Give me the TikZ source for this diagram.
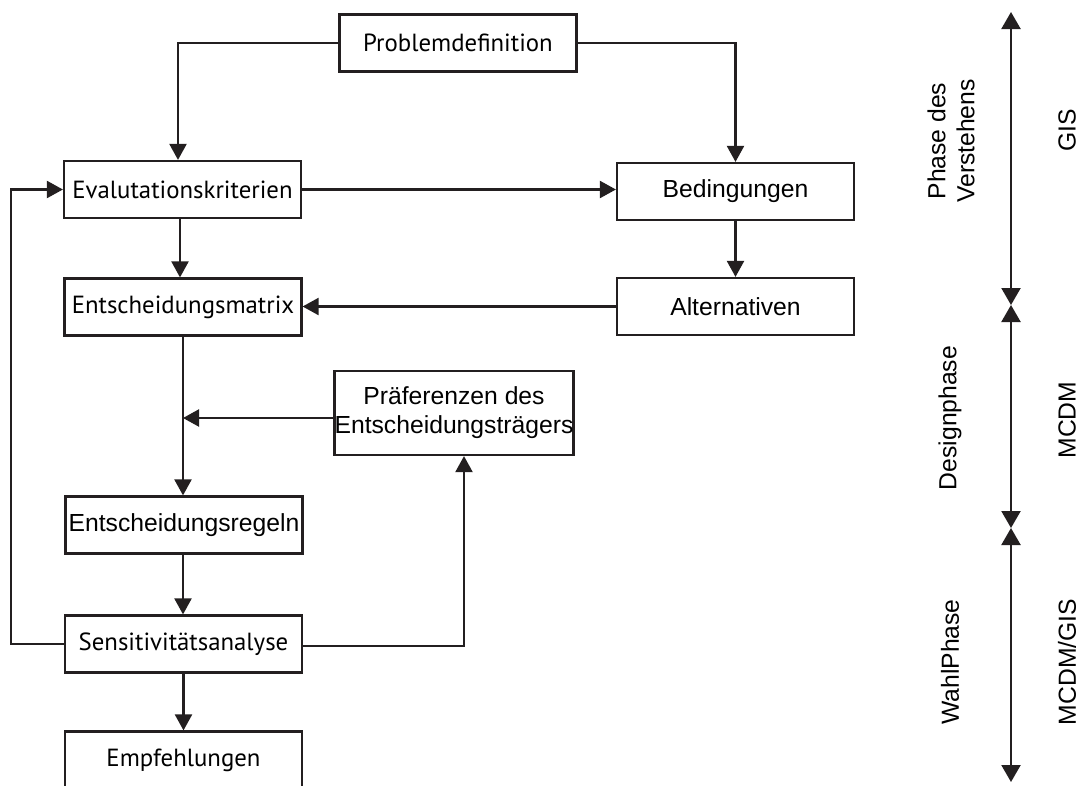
\documentclass[tikz,border=0pt]{standalone}
\usepackage{fontspec}
\setmainfont{Liberation Sans}
\newfontfamily\myr{PT Sans}
\usetikzlibrary{arrows.meta}
\definecolor{ink}{HTML}{231F20}
\tikzset{
  box/.style={draw=ink, line width=2.2pt, inner sep=0pt, minimum width=237pt, minimum height=57pt, align=center},
  helv/.style={font=\fontsize{24.7}{29}\selectfont},
  myriad/.style={font=\myr\fontsize{24.8}{29}\selectfont},
  arr/.style={draw=ink, line width=2.2pt, -{Triangle[length=16pt,width=17pt]}},
  axis/.style={draw=ink, line width=2.2pt, {Triangle[length=17pt,width=19pt]}-{Triangle[length=17pt,width=19pt]}},
  lab/.style={rotate=90, font=\fontsize{24.7}{29}\selectfont, align=center, inner sep=0pt}
}
\begin{document}
\begin{tikzpicture}[x=1pt,y=-1pt]
\clip (0,0) rectangle (1085,785);
\fill[white] (0,0) rectangle (1085,785);
% nodes
\node[box, myriad] (prob) at (458,43) {Problemdefinition};
\node[box, myriad] (eval) at (182.5,189.5) {Evalutationskriterien};
\node[box, helv] (bed) at (735.5,191.5) {Bedingungen};
\node[box, myriad] (mat) at (183,307) {Entscheidungsmatrix};
\node[box, helv] (alt) at (735.5,306.5) {Alternativen};
\node[box, helv, minimum height=84pt] (pref) at (454,413) {Präferenzen des\\Entscheidungsträgers};
\node[box, helv, minimum height=57pt] (regeln) at (184,525) {Entscheidungsregeln};
\node[box, myriad] (sens) at (183.5,644) {Sensitivitätsanalyse};
\node[box, myriad] (empf) at (183.5,760) {Empfehlungen};
% helper coordinates
\coordinate (lx) at (11,400);
% connectors
\draw[arr] (prob.west) -| ([xshift=-4.5pt]eval.north);
\draw[arr] (prob.east) -| (bed.north);
\draw[arr] (eval.east) -- (eval.east -| bed.west);
\draw[arr] ([xshift=-2.5pt]eval.south) -- ([xshift=-2.5pt]eval.south |- mat.north);
\draw[arr] (bed.south) -- (alt.north);
\draw[arr] (alt.west) -- (alt.west -| mat.east);
\draw[arr] (mat.south) -- (mat.south |- regeln.north);
\draw[arr] ([yshift=-5pt]pref.west) -- ([yshift=-5pt]pref.west -| mat.south);
\draw[arr] ([xshift=-1pt]regeln.south) -- ([xshift=-1pt]regeln.south |- sens.north);
\draw[arr] ([yshift=-2pt]sens.east) -| ([xshift=10pt]pref.south);
\draw[arr] (sens.west) -- (sens.west -| lx) |- (eval.west);
\draw[arr] (sens.south) -- (empf.north);
% phase axis
\coordinate (a0) at (1011,12);
\coordinate (a1) at (1011,305);
\coordinate (a2) at (1011,528);
\coordinate (a3) at (1011,782);
\draw[axis] (a0) -- (a1);
\draw[axis] (a1) -- (a2);
\draw[axis] (a2) -- (a3);
% labels
\node[lab] (l1) at (951,141) {Phase des\\Verstehens};
\node[lab] (l2) at (1067,130) {GIS};
\node[lab] (l3) at (950,418) {Designphase};
\node[lab] (l4) at (1067,420) {MCDM};
\node[lab] (l5) at (950,662) {WahlPhase};
\node[lab] (l6) at (1067,662) {MCDM/GIS};
\end{tikzpicture}
\end{document}
